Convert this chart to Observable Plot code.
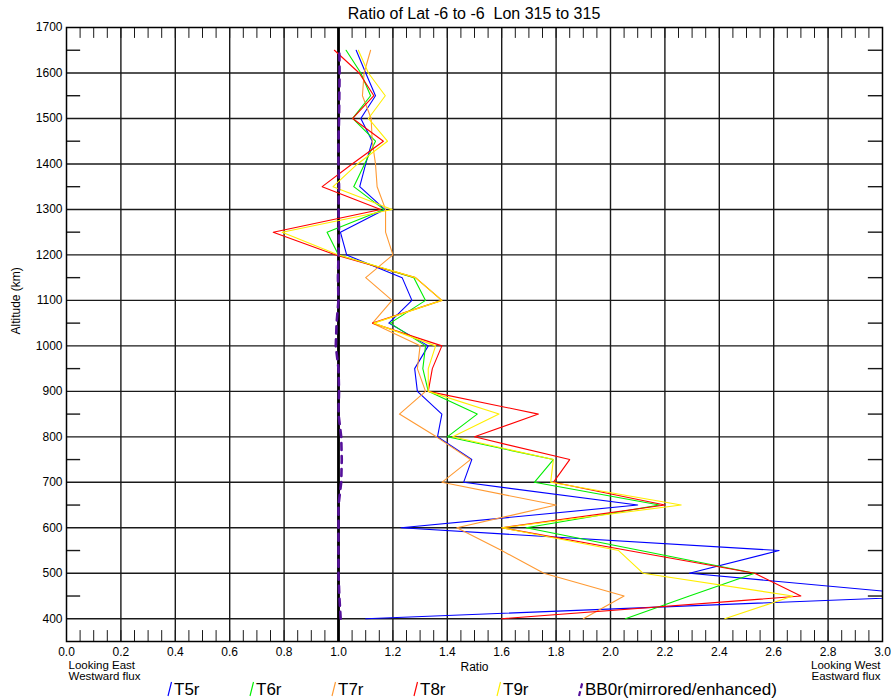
<!DOCTYPE html>
<html><head><meta charset="utf-8">
<script src="https://cdn.jsdelivr.net/npm/d3@7"></script>
<script src="https://cdn.jsdelivr.net/npm/@observablehq/plot@0.6"></script>
<style>
body{margin:0;background:#fff;font-family:"Liberation Sans",Arial,sans-serif;color:#000;}
#wrap{position:relative;width:891px;height:700px;overflow:hidden;}
#title{position:absolute;left:66px;width:816px;top:5px;height:18px;line-height:18px;text-align:center;font-size:16px;white-space:pre;}
#chart{position:absolute;left:0;top:20px;}
#legend{position:absolute;left:0;top:680px;width:891px;height:20px;}
.item{position:absolute;top:0;height:20px;line-height:20px;font-size:17px;white-space:nowrap;}
.item svg{vertical-align:-2px;margin-right:1px;}
</style></head><body>
<div id="wrap">
<div id="title"></div>
<div id="chart"></div>
<div id="legend"></div>
</div>
<script>
const titleText = "Ratio of Lat -6 to -6  Lon 315 to 315";
const altitudes = [400,450,500,550,600,650,700,750,800,850,900,950,1000,1050,1100,1150,1200,1250,1300,1350,1400,1450,1500,1550,1600,1650];
const t5r = [1.10,3.20,2.29,2.62,1.23,2.10,1.46,1.49,1.364,1.38,1.29,1.28,1.33,1.185,1.27,1.234,1.03,1.007,1.17,1.078,1.10,1.124,1.082,1.136,1.10,1.065];
const t6r = [2.055,2.29,2.53,2.11,1.69,2.18,1.72,1.79,1.40,1.51,1.33,1.31,1.32,1.19,1.32,1.277,1.0,0.958,1.167,1.056,1.096,1.136,1.052,1.118,1.082,1.028];
const t7r = [1.90,2.05,1.755,1.60,1.435,1.80,1.38,1.485,1.36,1.224,1.32,1.29,1.30,1.125,1.197,1.10,1.20,1.173,1.173,1.142,1.136,1.124,1.12,1.088,1.094,1.118];
const t8r = [1.60,2.70,2.53,2.065,1.60,2.20,1.79,1.85,1.50,1.735,1.33,1.345,1.38,1.125,1.38,1.283,0.99,0.76,1.155,0.94,1.05,1.165,1.052,1.13,1.076,0.985];
const t9r = [2.42,2.67,2.12,2.03,1.60,2.26,1.78,1.79,1.42,1.59,1.33,1.33,1.357,1.13,1.38,1.283,1.0,0.793,1.197,0.98,1.07,1.18,1.11,1.172,1.11,1.073];
const bb0r = [1.008,1.003,1.0,1.0,1.0,1.0,1.01,1.012,1.01,1.0,1.002,1.0,0.99,0.993,1.0,0.998,1.0,1.002,1.0,1.002,1.0,1.0,1.002,1.003,1.004,1.003];
const seriesNames = ["T5r","T6r","T7r","T8r","T9r","BB0r(mirrored/enhanced)"];
const xTickValues = [0.0,0.2,0.4,0.6,0.8,1.0,1.2,1.4,1.6,1.8,2.0,2.2,2.4,2.6,2.8,3.0];
const yTickValues = [400,500,600,700,800,900,1000,1100,1200,1300,1400,1500,1600,1700];
const xLabelLeft = "Looking East\nWestward flux";
const xLabelCenter = "Ratio";
const xLabelRight = "Looking West\nEastward flux";
const yLabel = "Altitude (km)";

const seriesValues = [t5r,t6r,t7r,t8r,t9r,bb0r];
const colors = ["#0000ff","#00ee00","#ff9a33","#ff0000","#ffee00","#55109a"];

document.getElementById("title").textContent = titleText;

const xGrid = xTickValues.filter(v => v > 0.01 && v < 2.99);
const yGrid = yTickValues.filter(v => v < 1700);
const xMinor = d3.range(0, 61).map(i => i * 0.05);
const yMinor = d3.range(450, 1700, 100);

const lineMarks = seriesValues.slice(0,5).map((vals, k) =>
  Plot.line(altitudes, {x: (d,i) => vals[i], y: d => d, stroke: colors[k], strokeWidth: 1.1, clip: true})
);

const chart = Plot.plot({
  width: 891, height: 680,
  marginLeft: 66, marginRight: 9, marginTop: 7, marginBottom: 59,
  x: {domain: [0, 3]},
  y: {domain: [350, 1700]},
  style: {fontFamily: "Liberation Sans, Arial, sans-serif", fontSize: "12px", background: "transparent"},
  marks: [
    Plot.ruleX(xGrid, {stroke: "#1a1a1a", strokeWidth: 1.4}),
    Plot.ruleY(yGrid, {stroke: "#1a1a1a", strokeWidth: 1.4}),
    Plot.ruleX(xMinor, {y1: 1700, y2: 1676, stroke: "#1a1a1a", strokeWidth: 1}),
    Plot.ruleX(xMinor, {y1: 350, y2: 374, stroke: "#1a1a1a", strokeWidth: 1}),
    Plot.ruleY(yMinor, {x1: 0, x2: 0.052, stroke: "#1a1a1a", strokeWidth: 1.4}),
    Plot.ruleY(yMinor, {x1: 2.948, x2: 3.0, stroke: "#1a1a1a", strokeWidth: 1.4}),
    Plot.ruleX([1.0], {stroke: "#000", strokeWidth: 2.8}),
    Plot.frame({stroke: "#000", strokeWidth: 1.5}),
    ...lineMarks,
    Plot.line(altitudes, {x: (d,i) => bb0r[i], y: d => d, stroke: colors[5], strokeWidth: 2.6, strokeDasharray: "7,6", clip: true}),
    Plot.axisX({ticks: xTickValues, tickFormat: d => d.toFixed(1), tickSize: 0, tickPadding: 6, label: null, fontSize: 12}),
    Plot.axisY({ticks: yTickValues, tickFormat: d => String(d), tickSize: 0, tickPadding: 4, label: null, fontSize: 12}),
    Plot.text([yLabel], {frameAnchor: "left", rotate: -90, dx: -50, fontSize: 12}),
    Plot.text([xLabelLeft], {frameAnchor: "bottom-left", textAnchor: "start", lineAnchor: "top", dx: 2, dy: 19, lineHeight: 1.0, fontSize: 11.5}),
    Plot.text([xLabelCenter], {frameAnchor: "bottom", lineAnchor: "top", dy: 21, fontSize: 12}),
    Plot.text([xLabelRight], {frameAnchor: "bottom-right", textAnchor: "end", lineAnchor: "top", dx: -2, dy: 19, lineHeight: 1.0, fontSize: 11.5})
  ]
});
document.getElementById("chart").appendChild(chart);

const legendX = [167, 249, 331, 413, 496, 578];
const legend = document.getElementById("legend");
seriesNames.forEach((name, k) => {
  const item = document.createElement("div");
  item.className = "item";
  item.style.left = legendX[k] + "px";
  const dash = k === 5 ? ' stroke-dasharray="5,3"' : '';
  const w = k === 5 ? 2.2 : 1.2;
  item.innerHTML = `<svg width="6" height="16"><line x1="1" y1="15" x2="4.5" y2="1" stroke="${colors[k]}" stroke-width="${w}"${dash}/></svg>`;
  item.appendChild(document.createTextNode(name));
  legend.appendChild(item);
});
</script>
</body></html>
